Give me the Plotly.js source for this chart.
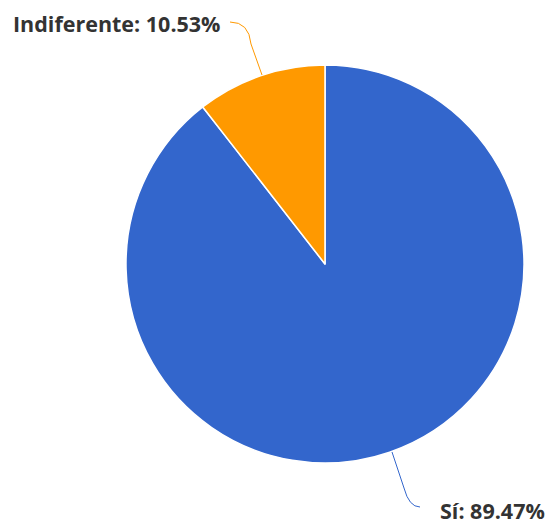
<!DOCTYPE html>
<html><head><meta charset="utf-8">
<script src="https://cdn.plot.ly/plotly-3.0.1.min.js"></script>
<style>html,body{margin:0;padding:0;background:#fff}</style>
</head><body>
<div id="chart" style="width:550px;height:525px"></div>
<script>
const labels = ["Sí", "Indiferente"];
const values = [89.47, 10.53];
const colors = ["#3366CC", "#FF9900"];

const W = 550, H = 525;
const px = x => x / W;
const py = y => 1 - y / H;

const data = [{
  type: "pie",
  labels: labels,
  values: values,
  sort: false,
  direction: "clockwise",
  rotation: 0,
  marker: {colors: colors, line: {color: "#ffffff", width: 1.5}},
  textinfo: "none",
  hoverinfo: "none",
  showlegend: false,
  domain: {x: [px(126), px(524)], y: [py(463), py(65)]}
}];

const fmt = i => labels[i] + ": " + values[i].toFixed(2) + "%";
const lblFont = {family: "Open Sans, sans-serif", size: 21.5, color: "#333333", weight: 700};

const layout = {
  width: W, height: H,
  margin: {l: 0, r: 0, t: 0, b: 0},
  paper_bgcolor: "#ffffff",
  showlegend: false,
  annotations: [
    {text: fmt(1), xref: "paper", yref: "paper", x: px(11), y: py(24), xanchor: "left", yanchor: "middle",
     showarrow: false, font: lblFont},
    {text: fmt(0), xref: "paper", yref: "paper", x: px(547), y: py(510), xanchor: "right", yanchor: "middle",
     showarrow: false, font: lblFont}
  ],
  shapes: [
    {type: "path", xref: "paper", yref: "paper",
     path: `M ${px(230)} ${py(22)} Q ${px(249)} ${py(22)} ${px(251)} ${py(44)} L ${px(262)} ${py(75)}`,
     line: {color: "#FF9900", width: 1}},
    {type: "path", xref: "paper", yref: "paper",
     path: `M ${px(392)} ${py(452)} L ${px(404)} ${py(488)} Q ${px(409)} ${py(507)} ${px(420)} ${py(507)}`,
     line: {color: "#3366CC", width: 1}}
  ]
};

Plotly.newPlot("chart", data, layout, {staticPlot: true, displayModeBar: false});
</script>
</body></html>
